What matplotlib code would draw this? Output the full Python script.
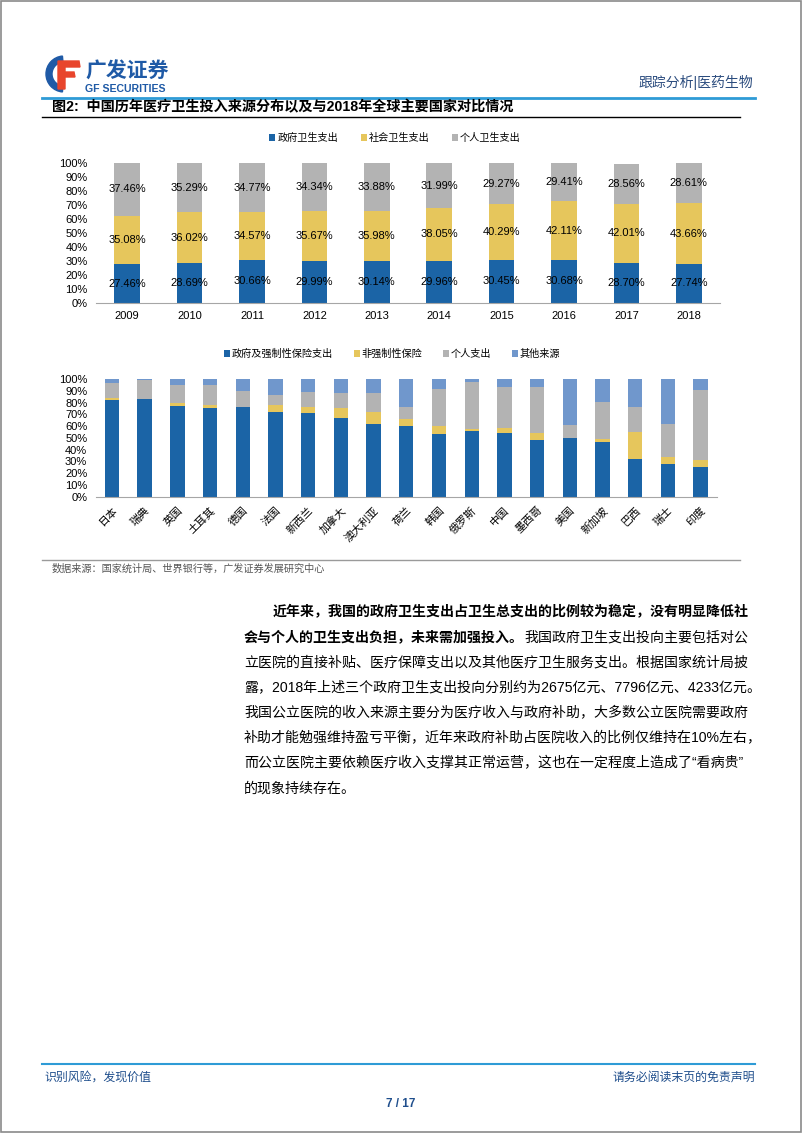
import numpy as np
import matplotlib.pyplot as plt
from matplotlib.patches import Rectangle, Wedge, Polygon
from matplotlib.lines import Line2D

plt.rcParams['font.family'] = ['Liberation Sans', 'Noto Sans CJK SC', 'DejaVu Sans']

# top chart: China 2009-2018
years = ['2009', '2010', '2011', '2012', '2013', '2014', '2015', '2016', '2017', '2018']
gov = [27.46, 28.69, 30.66, 29.99, 30.14, 29.96, 30.45, 30.68, 28.70, 27.74]
social = [35.08, 36.02, 34.57, 35.67, 35.98, 38.05, 40.29, 42.11, 42.01, 43.66]
personal = [37.46, 35.29, 34.77, 34.34, 33.88, 31.99, 29.27, 29.41, 28.56, 28.61]
top_labels = ['政府卫生支出', '社会卫生支出', '个人卫生支出']

# bottom chart: countries 2018
countries = ['日本', '瑞典', '英国', '土耳其', '德国', '法国', '新西兰', '加拿大', '澳大利亚', '荷兰',
             '韩国', '俄罗斯', '中国', '墨西哥', '美国', '新加坡', '巴西', '瑞士', '印度']
c_gov = [81.9, 82.7, 76.8, 75.4, 75.9, 71.7, 71.4, 66.6, 62.0, 60.1,
         53.3, 55.5, 54.1, 48.4, 49.6, 46.5, 32.3, 28.0, 25.5]
c_vol = [2.0, 0.3, 2.8, 2.8, 0.3, 6.5, 5.1, 9.0, 9.7, 5.6,
         6.5, 2.0, 4.3, 6.0, 0.3, 2.8, 22.7, 6.0, 5.7]
c_oop = [12.7, 15.9, 15.6, 16.7, 13.6, 8.2, 12.5, 12.8, 16.1, 10.8,
         31.4, 40.0, 34.5, 39.1, 11.0, 31.4, 20.9, 27.8, 59.2]
c_other = [3.4, 1.1, 4.8, 5.1, 10.2, 13.6, 11.0, 11.6, 12.2, 23.5,
           8.8, 2.5, 7.1, 6.5, 39.1, 19.3, 24.1, 38.2, 9.6]
bottom_labels = ['政府及强制性保险支出', '非强制性保险', '个人支出', '其他来源']

BLUE = '#1B64A6'
YELLOW = '#E6C65C'
GRAY = '#B3B3B3'
LBLUE = '#7097CC'
W, H = 802, 1133


def fx(x):
    return x / W


def fy(y):
    return 1 - y / H


fig = plt.figure(figsize=(8.02, 11.33), dpi=100)

# page border
fig.patches.append(Rectangle((0.0008, 0.0006), 0.9984, 0.9988, transform=fig.transFigure,
                             fill=False, edgecolor='#8a8a8a', lw=1.2))

# header logo
axl = fig.add_axes([fx(44), fy(93), 38 / W, 38 / H])
axl.set_xlim(0, 38)
axl.set_ylim(0, 38)
axl.axis('off')
axl.add_patch(Wedge((20, 19), 18, 95, 265, width=6, color='#1F5AA6'))
axl.add_patch(Polygon([[14, 4], [21, 4], [21, 16], [31, 16], [30, 21], [21, 21], [21, 26],
                       [36, 26], [35, 32], [14, 32]], closed=True, color='#E8452C'))
fig.text(fx(85), fy(72), '广发证券', fontsize=15, fontweight='bold', color='#1F5AA6', va='center')
fig.text(fx(85), fy(89), 'GF SECURITIES', fontsize=7.6, fontweight='bold', color='#1F5AA6', va='center')
fig.text(fx(753), fy(82), '跟踪分析|医药生物', fontsize=10, color='#2B4C7E', ha='right', va='center')
fig.add_artist(Line2D([fx(42), fx(755)], [fy(98), fy(98)], color='#2E9BD6', lw=2))

# figure title
fig.text(fx(52), fy(107), '图2:  中国历年医疗卫生投入来源分布以及与2018年全球主要国家对比情况',
         fontsize=10.2, fontweight='bold', va='center')
fig.add_artist(Line2D([fx(42), fx(740)], [fy(117), fy(117)], color='black', lw=1))

# top chart
ax1 = fig.add_axes([fx(96), fy(302.7), (720 - 96) / W, (302.7 - 163.3) / H])
x = np.arange(len(years))
b1 = ax1.bar(x, gov, 0.41, color=BLUE, label=top_labels[0])
b2 = ax1.bar(x, social, 0.41, bottom=gov, color=YELLOW, label=top_labels[1])
b3 = ax1.bar(x, personal, 0.41, bottom=np.add(gov, social), color=GRAY, label=top_labels[2])
for bars, vals in [(b1, gov), (b2, social), (b3, personal)]:
    ax1.bar_label(bars, labels=[f'{v:.2f}%' for v in vals], label_type='center', fontsize=8)
ax1.set_xlim(-0.5, len(years) - 0.5)
ax1.set_ylim(0, 100)
ax1.set_yticks(np.arange(0, 101, 10))
ax1.set_yticklabels([f'{v}%' for v in range(0, 101, 10)])
ax1.set_xticks(x)
ax1.set_xticklabels(years)
ax1.tick_params(length=0, labelsize=8, pad=6)
for s in ['top', 'right', 'left']:
    ax1.spines[s].set_visible(False)
ax1.spines['bottom'].set_color('#A6A6A6')
fig.legend(handles=[b1, b2, b3], loc='center', bbox_to_anchor=(fx(395), fy(138)), ncol=3,
           frameon=False, fontsize=7.3, handlelength=0.6, handleheight=0.6, handletextpad=0.2,
           columnspacing=2.2)

# bottom chart
ax2 = fig.add_axes([fx(95.6), fy(496.7), (717 - 95.6) / W, 117.7 / H])
x2 = np.arange(len(countries))
s1 = np.array(c_gov)
s2 = s1 + np.array(c_vol)
s3 = s2 + np.array(c_oop)
h1 = ax2.bar(x2, c_gov, 0.44, color=BLUE, label=bottom_labels[0])
h2 = ax2.bar(x2, c_vol, 0.44, bottom=s1, color=YELLOW, label=bottom_labels[1])
h3 = ax2.bar(x2, c_oop, 0.44, bottom=s2, color=GRAY, label=bottom_labels[2])
h4 = ax2.bar(x2, c_other, 0.44, bottom=s3, color=LBLUE, label=bottom_labels[3])
ax2.set_xlim(-0.5, len(countries) - 0.5)
ax2.set_ylim(0, 100)
ax2.set_yticks(np.arange(0, 101, 10))
ax2.set_yticklabels([f'{v}%' for v in range(0, 101, 10)])
ax2.set_xticks(x2)
ax2.set_xticklabels(countries, rotation=45, ha='right', va='top', rotation_mode='anchor', fontsize=7.8)
ax2.tick_params(length=0, pad=6)
ax2.tick_params(axis='y', labelsize=8)
for s in ['top', 'right', 'left']:
    ax2.spines[s].set_visible(False)
ax2.spines['bottom'].set_color('#A6A6A6')
fig.legend(handles=[h1, h2, h3, h4], loc='center', bbox_to_anchor=(fx(392), fy(354)), ncol=4,
           frameon=False, fontsize=7.3, handlelength=0.6, handleheight=0.6, handletextpad=0.2,
           columnspacing=2.0)

# source
fig.add_artist(Line2D([fx(42), fx(740)], [fy(560), fy(560)], color='#9a9a9a', lw=1))
fig.text(fx(52), fy(569), '数据来源：国家统计局、世界银行等，广发证券发展研究中心', fontsize=7.3,
         color='#555555', va='center')

# paragraph
fs = 10.05
y0, dy = 612, 25.2
renderer = fig.canvas.get_renderer()
fig.text(fx(273), fy(y0), '近年来，我国的政府卫生支出占卫生总支出的比例较为稳定，没有明显降低社',
         fontsize=fs, fontweight='bold', va='center')
t = fig.text(fx(244), fy(y0 + dy), '会与个人的卫生支出负担，未来需加强投入。', fontsize=fs,
             fontweight='bold', va='center')
bb = t.get_window_extent(renderer=renderer)
fig.text(bb.x1 / fig.bbox.width, fy(y0 + dy), '我国政府卫生支出投向主要包括对公', fontsize=fs, va='center')
lines = ['立医院的直接补贴、医疗保障支出以及其他医疗卫生服务支出。根据国家统计局披',
         '露，2018年上述三个政府卫生支出投向分别约为2675亿元、7796亿元、4233亿元。',
         '我国公立医院的收入来源主要分为医疗收入与政府补助，大多数公立医院需要政府',
         '补助才能勉强维持盈亏平衡，近年来政府补助占医院收入的比例仅维持在10%左右，',
         '而公立医院主要依赖医疗收入支撑其正常运营，这也在一定程度上造成了“看病贵”',
         '的现象持续存在。']
for i, ln in enumerate(lines):
    fig.text(fx(244), fy(y0 + dy * (i + 2)), ln, fontsize=fs, va='center')

# footer
fig.add_artist(Line2D([fx(42), fx(755)], [fy(1064), fy(1064)], color='#2E9BD6', lw=1.5))
fig.text(fx(44), fy(1078), '识别风险，发现价值', fontsize=8.6, color='#1F4E8C', va='center')
fig.text(fx(755), fy(1078), '请务必阅读末页的免责声明', fontsize=8.6, color='#1F4E8C', va='center', ha='right')
fig.text(fx(401), fy(1104), '7 / 17', fontsize=8.5, fontweight='bold', color='#1F4E8C', va='center', ha='center')

fig.savefig('out.png', dpi=100)
